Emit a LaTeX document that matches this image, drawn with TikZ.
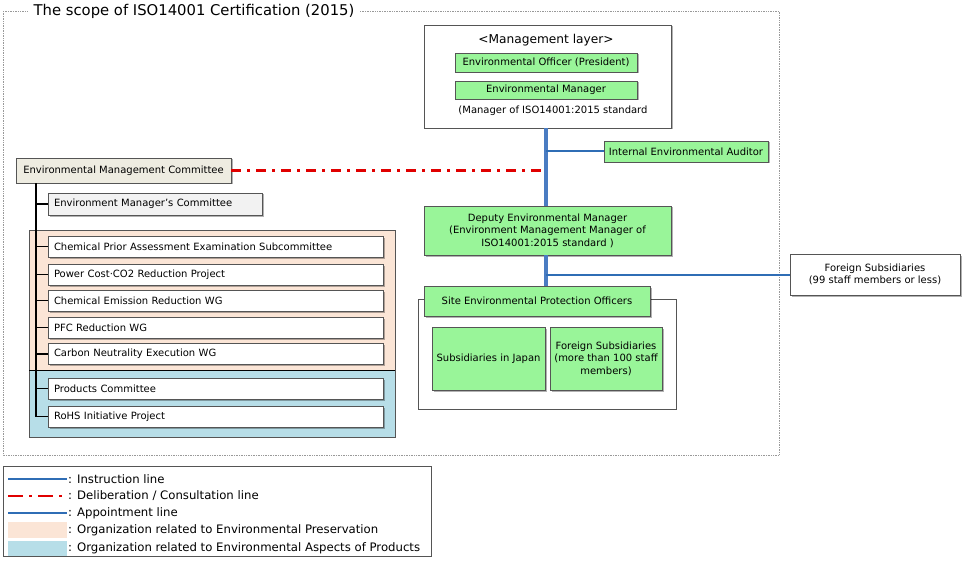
\documentclass[tikz,border=0pt]{standalone}
\usepackage{fontspec}
\setmainfont{DejaVu Sans}
\usetikzlibrary{shadows}
\definecolor{boxgreen}{HTML}{99F599}
\definecolor{tanfill}{HTML}{EEECE1}
\definecolor{grayfill}{HTML}{F2F2F2}
\definecolor{peach}{HTML}{FBE5D6}
\definecolor{lblue}{HTML}{B7DEE8}
\definecolor{instblue}{HTML}{2F6DB5}
\definecolor{spineblue}{HTML}{4A7CC2}
\definecolor{consred}{HTML}{E00000}
\definecolor{edge}{HTML}{555555}
\tikzset{
  shad/.style={drop shadow={shadow xshift=1.5pt,shadow yshift=-1.5pt,opacity=0.3,fill=black}},
  bx/.style={draw=edge,line width=0.8pt,inner sep=1pt,font=\fontsize{10}{12.5}\selectfont,align=center,shad},
  gbox/.style={bx,fill=boxgreen},
  wbox/.style={bx,fill=white},
  lbox/.style={bx,fill=white,minimum width=335pt,minimum height=21pt,text width=323pt,align=left},
  spine/.style={spineblue,line width=3.5pt},
  inst/.style={instblue,line width=2pt},
  cons/.style={consred,line width=2.8pt,dash pattern=on 10pt off 6pt on 3pt off 6pt},
  tree/.style={black,line width=1.2pt},
  legtxt/.style={anchor=west,font=\fontsize{11.7}{14}\selectfont,inner sep=0pt}
}
\begin{document}
\begin{tikzpicture}[x=1pt,y=-1pt]
\useasboundingbox (0,0) rectangle (966,564);
% outer dotted frame
\draw[gray!80,densely dotted,line width=0.7pt] (3,11) rectangle (779,455);
\node[fill=white,inner xsep=6pt,inner ysep=1pt,font=\fontsize{14.8}{17}\selectfont] (title) at (194,11) {The scope of ISO14001 Certification (2015)};

% coloured regions
\fill[peach] (29,230) rectangle (395,370);
\fill[lblue] (29,370) rectangle (395,437);
\draw[edge,line width=0.8pt] (29,230) rectangle (395,437);
\draw[black,line width=1pt] (29,370) -- (395,370);

% management layer
\node[wbox,minimum width=247pt,minimum height=103pt] (mgmt) at (547.5,76.5) {};
\node[font=\fontsize{12.2}{14}\selectfont,inner sep=0pt] (mtitle) at (546,40) {<Management layer>};
\node[gbox,minimum width=182pt,minimum height=19pt] (off) at (546,62.5) {Environmental Officer (President)};
\node[gbox,minimum width=182pt,minimum height=18pt] (em) at (546,90) {Environmental Manager};
\node[font=\fontsize{10}{12}\selectfont,inner sep=0pt] (mnote) at (553,111) {(Manager of ISO14001:2015 standard};

\coordinate (sp) at (546,0);

% auditor
\node[gbox,minimum width=164pt,minimum height=21pt] (aud) at (686,151.5) {Internal Environmental Auditor};

% deputy
\node[gbox,minimum width=247pt,minimum height=49pt] (dep) at (547.5,230.5) {Deputy Environmental Manager\\(Environment Management Manager of\\ISO14001:2015 standard )};

% foreign <=99
\node[wbox,minimum width=170pt,minimum height=41pt] (fs99) at (875,274.5) {Foreign Subsidiaries\\(99 staff members or less)};

% site container
\draw[edge,line width=0.8pt] (418,299) rectangle (676,409);
\node[gbox,minimum width=226pt,minimum height=30pt] (site) at (537,301) {Site Environmental Protection Officers};
\node[gbox,minimum width=113pt,minimum height=63pt] (sj) at (488.5,358.5) {Subsidiaries in Japan};
\node[gbox,minimum width=112pt,minimum height=63pt] (fs100) at (606,358.5) {Foreign Subsidiaries\\(more than 100 staff\\members)};

% committees
\node[bx,fill=tanfill,minimum width=215pt,minimum height=25pt] (emc) at (123.5,170.5) {Environmental Management Committee};
\node[bx,fill=grayfill,minimum width=214pt,minimum height=22pt,text width=202pt,align=left] (emcc) at (155,204) {Environment Manager’s Committee};
\node[lbox] (c1) at (215.5,246.5) {Chemical Prior Assessment Examination Subcommittee};
\node[lbox] (c2) at (215.5,274.5) {Power Cost·CO2 Reduction Project};
\node[lbox] (c3) at (215.5,300.5) {Chemical Emission Reduction WG};
\node[lbox] (c4) at (215.5,327.5) {PFC Reduction WG};
\node[lbox] (c5) at (215.5,354) {Carbon Neutrality Execution WG};
\node[lbox] (c6) at (215.5,388.5) {Products Committee};
\node[lbox] (c7) at (215.5,416.5) {RoHS Initiative Project};

% connectors
\coordinate (tr) at (36,0);
\draw[tree] (emc.south -| tr) -- (c7.west -| tr) -- (c7.west);
\foreach \n in {emcc,c1,c2,c3,c4,c5,c6} \draw[tree] (\n.west -| tr) -- (\n.west);

\draw[cons] (emc.east) -- (emc.east -| sp);
\draw[spine] (mgmt.south -| sp) -- (dep.north -| sp);
\draw[inst] (aud.west) -- (aud.west -| sp);
\draw[spine] (dep.south -| sp) -- (site.north -| sp);
\draw[inst] (fs99.west) -- (fs99.west -| sp);

% legend
\draw[edge,line width=0.9pt] (3,466) rectangle (431,556);
\coordinate (la) at (8,479);
\coordinate (lb) at (67,479);
\draw[instblue,line width=2.2pt] (la) -- (lb);
\node[legtxt] (l1) at (68,479) {: Instruction line};
\coordinate (lc) at (8,496);
\coordinate (ld) at (67,496);
\draw[consred,line width=2.8pt,dash pattern=on 15pt off 6pt on 3pt off 6pt] (lc) -- (ld);
\node[legtxt] (l2) at (68,496) {: Deliberation / Consultation line};
\coordinate (le) at (8,513);
\coordinate (lf) at (67,513);
\draw[instblue,line width=1.4pt] (le) -- (lf);
\node[legtxt] (l3) at (68,513) {: Appointment line};
\fill[peach] (8,522) rectangle (67,538);
\node[legtxt] (l4) at (68,530) {: Organization related to Environmental Preservation};
\fill[lblue] (8,541) rectangle (67,556);
\node[legtxt] (l5) at (68,548) {: Organization related to Environmental Aspects of Products};
\end{tikzpicture}
\end{document}
